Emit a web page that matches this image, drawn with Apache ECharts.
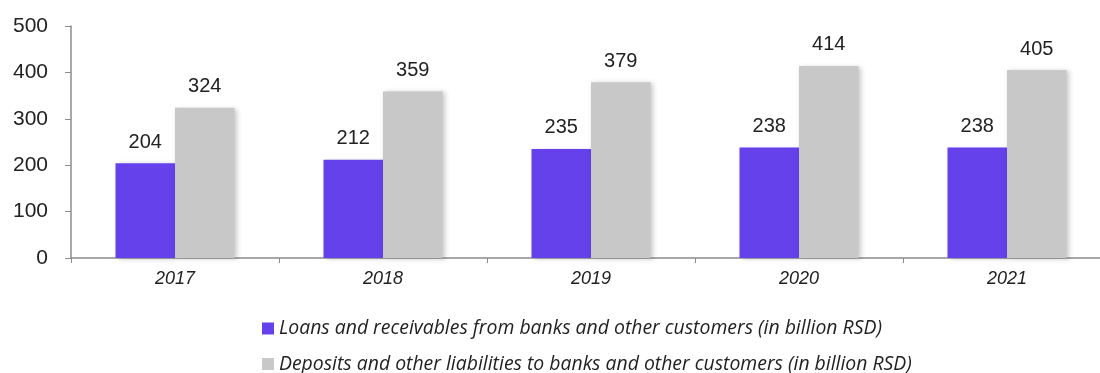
<!DOCTYPE html>
<html>
<head>
<meta charset="utf-8">
<script src="https://cdn.jsdelivr.net/npm/echarts@6/dist/echarts.min.js"></script>
<style>
  html, body { margin: 0; padding: 0; background: #fff; overflow: hidden; }
  /* the category axis runs a little past the right edge of the window */
  #chart { width: 1111px; height: 373px; }
</style>
</head>
<body>
<div id="chart"></div>
<script>
// Years on the category axis
const years = ['2017', '2018', '2019', '2020', '2021'];
// Loans and receivables from banks and other customers (billion RSD)
const loans = [204, 212, 235, 238, 238];
// Deposits and other liabilities to banks and other customers (billion RSD)
const deposits = [324, 359, 379, 414, 405];
// Legend texts
const loansName = 'Loans and receivables from banks and other customers (in billion RSD)';
const depositsName = 'Deposits and other liabilities to banks and other customers (in billion RSD)';

const chart = echarts.init(document.getElementById('chart'), null, { renderer: 'canvas' });

const barShadow = {
  shadowBlur: 5,
  shadowOffsetX: 2,
  shadowOffsetY: 1,
  shadowColor: 'rgba(0,0,0,0.22)'
};

const valueLabel = {
  show: true,
  position: 'top',
  distance: 11,
  fontFamily: 'Liberation Sans, Arial, sans-serif',
  fontSize: 20,
  color: '#222'
};

const legendText = {
  fontFamily: 'Open Sans, sans-serif',
  fontStyle: 'italic',
  fontSize: 19.4,
  lineHeight: 20,
  color: '#222'
};

function legendRow(name, top) {
  return {
    left: 262,
    top: top,
    padding: 0,
    itemWidth: 12,
    itemHeight: 12,
    icon: 'rect',
    textStyle: legendText,
    data: [name]
  };
}

chart.setOption({
  animation: false,
  grid: { left: 71, right: 0, top: 26, height: 232, containLabel: false },
  legend: [legendRow(loansName, 318.5), legendRow(depositsName, 354)],
  xAxis: {
    type: 'category',
    data: years,
    axisLine: { lineStyle: { color: '#8c8c8c', width: 1.5 } },
    axisTick: { show: true, length: 5, lineStyle: { color: '#8c8c8c' } },
    axisLabel: {
      margin: 12,
      fontFamily: 'Liberation Sans, Arial, sans-serif',
      fontStyle: 'italic',
      fontSize: 18,
      color: '#222'
    }
  },
  yAxis: {
    type: 'value',
    min: 0,
    max: 500,
    interval: 100,
    splitLine: { show: false },
    axisLine: { show: true, lineStyle: { color: '#8c8c8c', width: 1.5 } },
    axisTick: { show: true, length: 6, lineStyle: { color: '#8c8c8c' } },
    axisLabel: {
      margin: 23,
      fontFamily: 'Liberation Sans, Arial, sans-serif',
      fontSize: 21,
      color: '#222'
    }
  },
  series: [
    {
      name: loansName,
      type: 'bar',
      data: loans,
      barWidth: 59.5,
      barGap: '0%',
      itemStyle: Object.assign({ color: '#6441eb' }, barShadow),
      label: valueLabel
    },
    {
      name: depositsName,
      type: 'bar',
      data: deposits,
      barWidth: 59.5,
      itemStyle: Object.assign({ color: '#c8c8c8' }, barShadow),
      label: valueLabel
    }
  ]
});
</script>
</body>
</html>
